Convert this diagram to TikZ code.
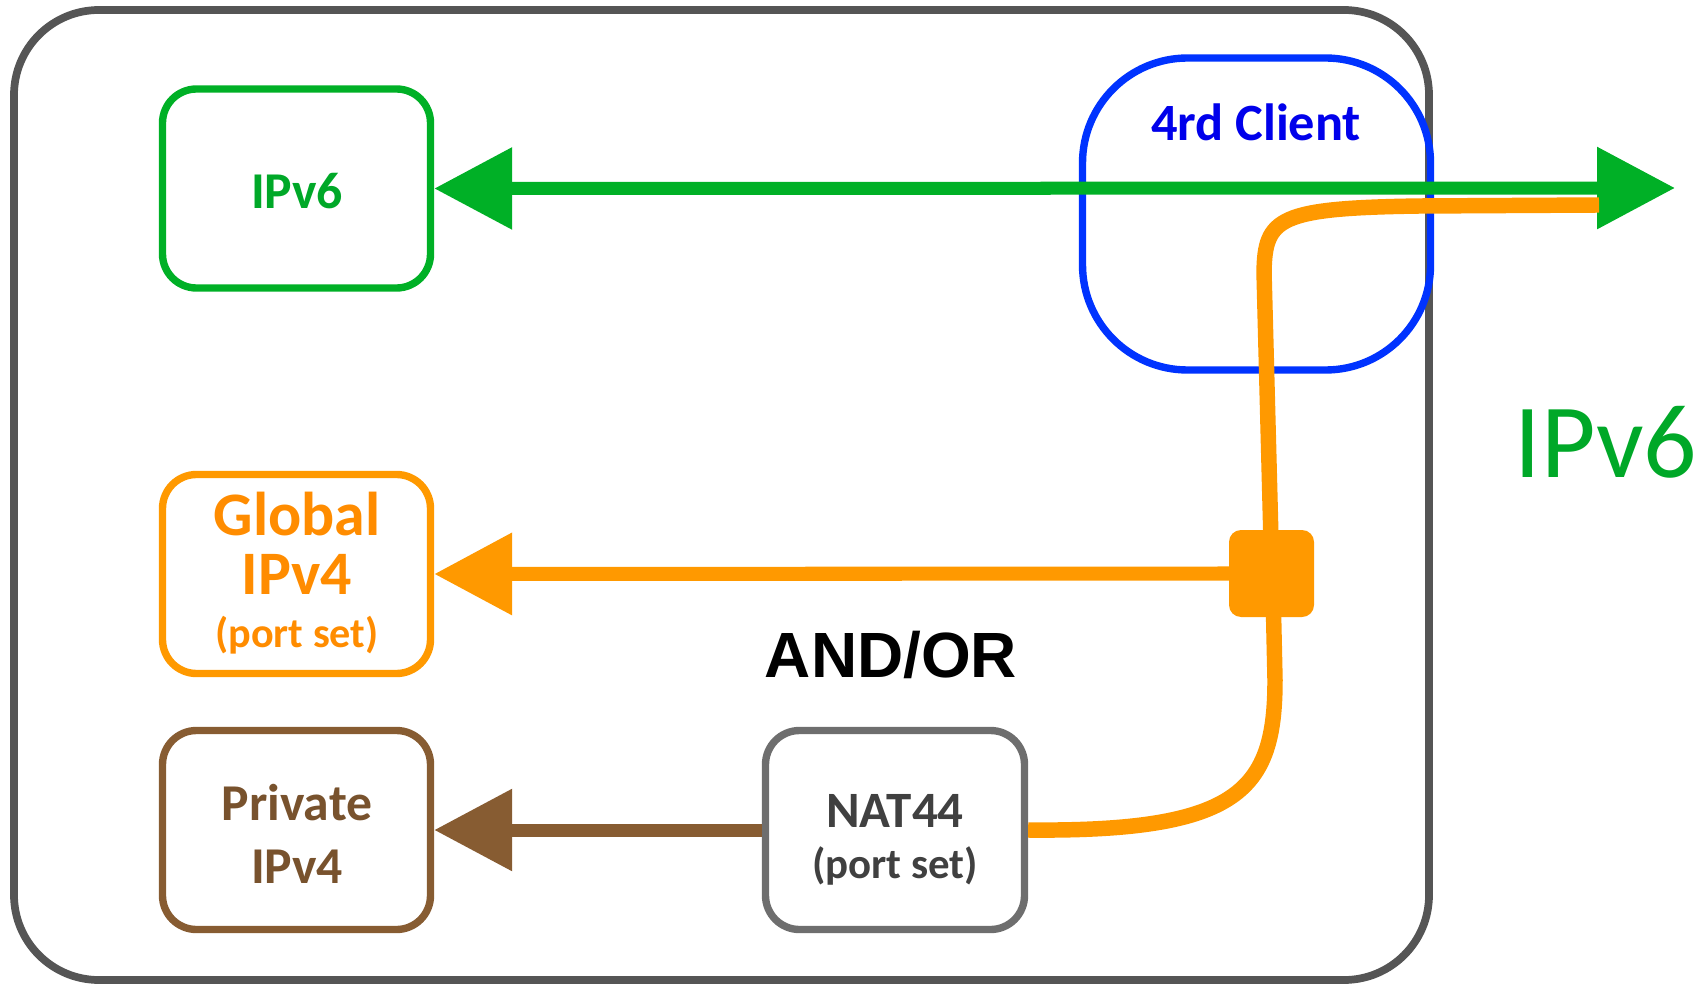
\documentclass[tikz,border=0pt]{standalone}
\usepackage{fontspec}
\setmainfont{Carlito}
\newfontfamily\arialfont{Liberation Sans}
\usetikzlibrary{arrows.meta}

\definecolor{vgreen}{RGB}{0,176,38}
\definecolor{tgreen}{RGB}{0,168,40}
\definecolor{vorange}{RGB}{255,153,0}
\definecolor{torange}{RGB}{255,140,0}
\definecolor{vblue}{RGB}{0,51,255}
\definecolor{tblue}{RGB}{0,0,235}
\definecolor{vbrown}{RGB}{135,92,50}
\definecolor{tbrown}{RGB}{120,82,45}
\definecolor{hostgray}{RGB}{85,85,85}
\definecolor{natgray}{RGB}{110,110,110}
\definecolor{nattext}{RGB}{64,64,64}

\begin{document}
\begin{tikzpicture}[x=0.1mm,y=-0.1mm,
  >={Triangle[length=7.8mm,width=7.9mm]},
  box/.style={draw,line width=2.1pt,rounded corners=3.4mm,minimum width=26.8mm,minimum height=19.9mm},
  lbl/.style={anchor=base,inner sep=0pt,font=\bfseries\fontsize{#1}{#1}\selectfont}]
\useasboundingbox (0,0) rectangle (1708,984);
\node[draw=hostgray,line width=2.2pt,rounded corners=8.5mm,minimum width=141.5mm,minimum height=97mm] (host) at (721.5,495) {};
\node[box,draw=vgreen] (ipv6) at (296.5,188.5) {};
\node[box,draw=vorange] (global) at (296.5,574) {};
\node[box,draw=vbrown] (private) at (296.5,830) {};
\node[box,draw=natgray,minimum width=25.9mm] (nat) at (895,830) {};
\node[draw=vblue,line width=2.1pt,rounded corners=10.5mm,minimum width=34.8mm,minimum height=31.2mm] (client) at (1256.5,214) {};
\coordinate (wan) at (1675,188);
\coordinate (bend) at (1264,272);
\coordinate (tail) at (1599,205);
% flows
\draw[vgreen,line width=3.7pt,<->] (ipv6.east) -- (wan);
\draw[vorange,line width=4.4pt] (1271.5,560) -- (bend) .. controls (1265,218) and (1278,208) .. (1420,206) -- (tail);
\draw[vorange,line width=4pt,->] (1260,573.5) -- (global.east);
\draw[vorange,line width=4.4pt] (nat.east) .. controls (1240,832) and (1275,790) .. (1275,680) -- (1273,590);
\draw[vbrown,line width=3.7pt,->] (nat.west) -- (private.east);
\node[fill=vorange,rounded corners=1.2mm,minimum width=8.5mm,minimum height=8.7mm] (mux) at (1271.5,573.5) {};
% labels
\node[lbl=14.7,text=tgreen] (ipv6-t) at (297,209) {IPv6};
\node[lbl=17.6,text=torange] (global-t) at (297,535) {Global};
\node[lbl=17.6,text=torange] (global-v) at (297,594) {IPv4};
\node[lbl=12,text=torange] (global-p) at (297,647) {(port set)};
\node[lbl=14.7,text=tbrown] (private-t) at (297,820) {Private};
\node[lbl=14.7,text=tbrown] (private-v) at (297,883) {IPv4};
\node[lbl=14.5,text=nattext] (nat-t) at (895,827) {NAT44};
\node[lbl=12.2,text=nattext] (nat-p) at (895,878) {(port set)};
\node[lbl=14.9,text=tblue] (client-t) at (1256,141) {4rd Client};
\node[anchor=base,inner sep=0pt,font=\arialfont\bfseries\fontsize{18.2}{18.2}\selectfont] (andor) at (891,677) {AND/OR};
\node[anchor=base,inner sep=0pt,text=tgreen,font=\fontsize{30}{30}\selectfont] (wan-t) at (1606,477) {IPv6};
\end{tikzpicture}
\end{document}
